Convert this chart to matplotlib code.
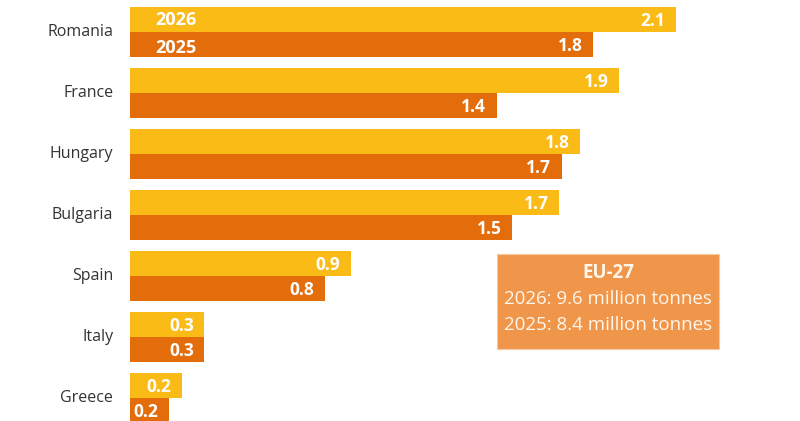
import matplotlib
matplotlib.use("Agg")
import matplotlib.pyplot as plt
from matplotlib.patches import Rectangle

countries = ["Romania", "France", "Hungary", "Bulgaria", "Spain", "Italy", "Greece"]
values_2026 = [2.10, 1.88, 1.73, 1.65, 0.85, 0.285, 0.20]
values_2025 = [1.78, 1.41, 1.66, 1.47, 0.75, 0.285, 0.15]
labels_2026 = ["2.1", "1.9", "1.8", "1.7", "0.9", "0.3", "0.2"]
labels_2025 = ["1.8", "1.4", "1.7", "1.5", "0.8", "0.3", "0.2"]
series_names = ["2026", "2025"]
box_title = "EU-27"
box_lines = ["2026: 9.6 million tonnes", "2025: 8.4 million tonnes"]

C26 = "#FBBB17"
C25 = "#E36C0B"
FONT = "Open Sans"

fig = plt.figure(figsize=(8, 4.21), dpi=100)
ax = fig.add_axes([130 / 800, 0, 670 / 800, 1])
ax.set_xlim(0, 670 / 260)
ax.set_ylim(6.377, -0.525)
ax.axis("off")

h = 0.41
for i, c in enumerate(countries):
    ax.barh(i - h / 2, values_2026[i], height=h, color=C26, linewidth=0)
    ax.barh(i + h / 2, values_2025[i], height=h, color=C25, linewidth=0)
    ax.annotate(labels_2026[i], (values_2026[i], i - h / 2), xytext=(-7.5, -1),
                textcoords="offset points", ha="right", va="center",
                color="white", fontsize=12.5, fontweight="bold", family=FONT)
    ax.annotate(labels_2025[i], (values_2025[i], i + h / 2), xytext=(-7.5, -1),
                textcoords="offset points", ha="right", va="center",
                color="white", fontsize=12.5, fontweight="bold", family=FONT)
    ax.annotate(c, (0, i), xytext=(-12, 0), textcoords="offset points",
                ha="right", va="center", color="#333333", fontsize=11.5,
                family=FONT, annotation_clip=False)

ax.annotate(series_names[0], (0, -h / 2), xytext=(18, 0), textcoords="offset points",
            ha="left", va="center", color="white", fontsize=13, fontweight="bold", family=FONT)
ax.annotate(series_names[1], (0, h / 2), xytext=(18, -2.5), textcoords="offset points",
            ha="left", va="center", color="white", fontsize=13, fontweight="bold", family=FONT)

# EU-27 box
W, H = 800, 421
bx0, bx1, by0, by1 = 497, 719, 254, 349
fig.patches.append(Rectangle((bx0 / W, 1 - by1 / H), (bx1 - bx0) / W, (by1 - by0) / H,
                             transform=fig.transFigure, facecolor="#F0964B",
                             edgecolor="#F8C9A0", linewidth=0.8))
cx = (bx0 + bx1) / 2 / W
fig.text(cx, 1 - 273 / H, box_title, ha="center", va="center", color="#FFF6EC",
         fontsize=13.5, fontweight="bold", family=FONT)
fig.text(cx, 1 - 299 / H, box_lines[0], ha="center", va="center", color="#FFF6EC",
         fontsize=13.5, family=FONT)
fig.text(cx, 1 - 325 / H, box_lines[1], ha="center", va="center", color="#FFF6EC",
         fontsize=13.5, family=FONT)

fig.savefig("out.png", dpi=100, facecolor="white")
